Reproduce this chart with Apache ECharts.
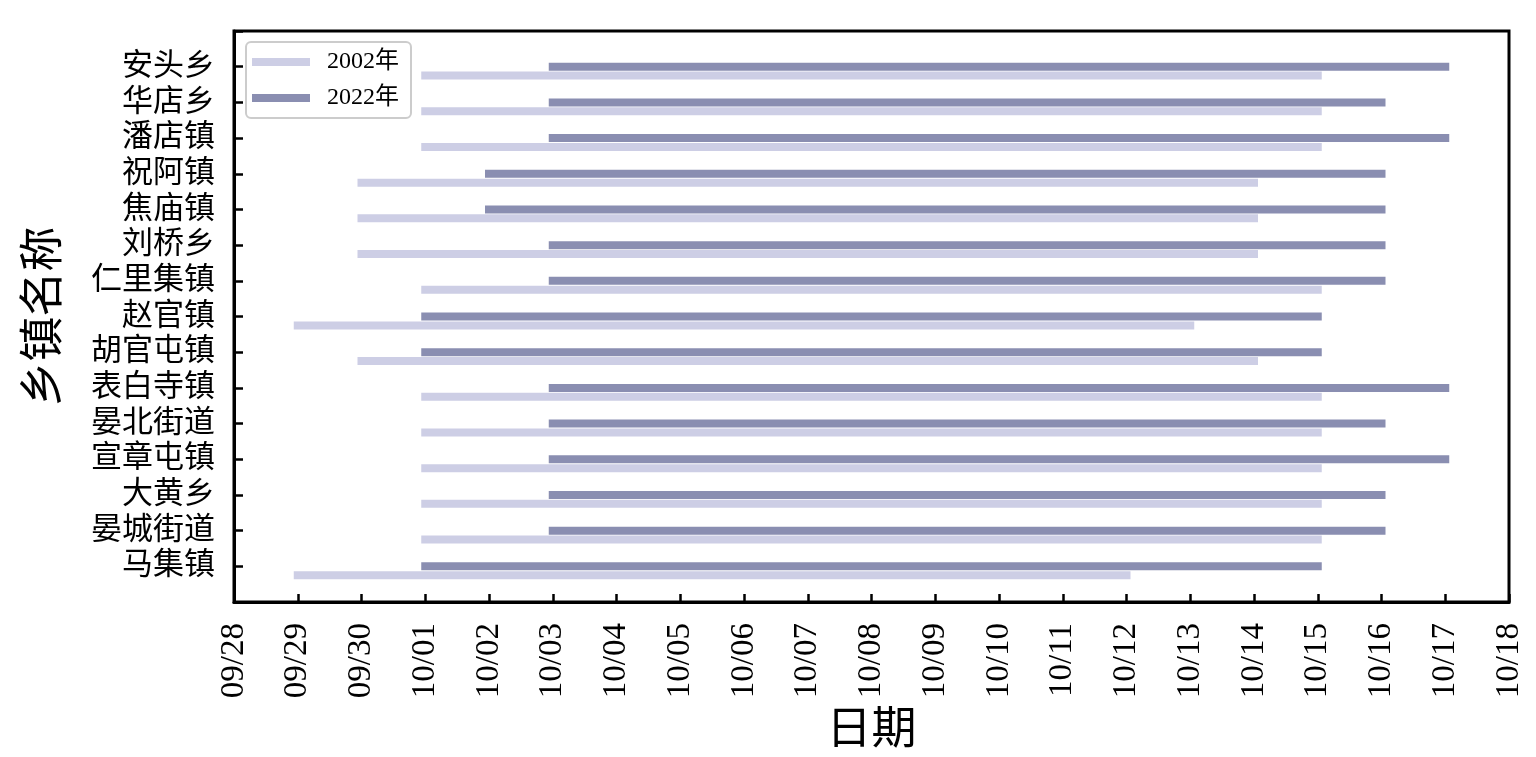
<!DOCTYPE html>
<html>
<head>
<meta charset="utf-8">
<script src="https://cdn.jsdelivr.net/npm/echarts@6/dist/echarts.min.js"></script>
<style>html,body{margin:0;padding:0;background:#fff;}#c{width:1536px;height:757px;}</style>
</head>
<body>
<div id="c"></div>
<script>
const towns = ['安头乡','华店乡','潘店镇','祝阿镇','焦庙镇','刘桥乡','仁里集镇','赵官镇','胡官屯镇','表白寺镇','晏北街道','宣章屯镇','大黄乡','晏城街道','马集镇'];
const tickLabels = ['09/28','09/29','09/30','10/01','10/02','10/03','10/04','10/05','10/06','10/07','10/08','10/09','10/10','10/11','10/12','10/13','10/14','10/15','10/16','10/17','10/18'];
const start2002 = ['10/01','10/01','10/01','09/30','09/30','09/30','10/01','09/29','09/30','10/01','10/01','10/01','10/01','10/01','09/29'];
const end2002   = ['10/15','10/15','10/15','10/14','10/14','10/14','10/15','10/13','10/14','10/15','10/15','10/15','10/15','10/15','10/12'];
const start2022 = ['10/03','10/03','10/03','10/02','10/02','10/03','10/03','10/01','10/01','10/03','10/03','10/03','10/03','10/03','10/01'];
const end2022   = ['10/17','10/16','10/17','10/16','10/16','10/16','10/16','10/15','10/15','10/17','10/16','10/17','10/16','10/16','10/15'];
const seriesNames = ['2002年','2022年'];
const colors = ['#CDCEE5','#8A8EB1'];

const FONT = '"Liberation Serif", "Noto Sans CJK SC", serif';
const idx = d => tickLabels.indexOf(d);
function build(starts, ends){ return towns.map((t,i)=>[idx(starts[i]), idx(ends[i]), i]); }

function makeRender(color, shift){
  return function(params, api){
    const y = api.value(2);
    const off = shift ? api.size([0, 0.25])[1] : 0;
    const s = api.coord([api.value(0), y]);
    const e = api.coord([api.value(1), y]);
    return {
      type: 'line',
      shape: {x1: s[0], y1: s[1] + off, x2: e[0], y2: e[1] + off},
      style: {stroke: color, lineWidth: 8, lineCap: 'square'}
    };
  };
}

const chart = echarts.init(document.getElementById('c'), null, {renderer:'canvas'});
chart.setOption({
  animation: false,
  backgroundColor: '#fff',
  grid: {left: 234, right: 27, top: 31, bottom: 155, show: true, borderColor: '#000', borderWidth: 3, backgroundColor: '#fff', containLabel: false, outerBoundsMode: 'none'},
  legend: {
    data: seriesNames, orient: 'vertical', left: 246, top: 42, icon: 'rect',
    itemWidth: 58, itemHeight: 8, itemGap: 12, selectedMode: false,
    padding: [8, 12, 8, 6], borderColor: '#cccccc', borderWidth: 2, borderRadius: 5, backgroundColor: '#fff',
    textStyle: {fontFamily: FONT, fontSize: 24, color: '#000', padding: [0, 0, 0, 12]}
  },
  xAxis: {
    type: 'value', min: 0, max: 20, interval: 1,
    name: '日期', nameLocation: 'middle', nameGap: 108,
    nameTextStyle: {fontFamily: FONT, fontSize: 45, color: '#000'},
    axisLine: {show: true, onZero: false, lineStyle: {color: '#000', width: 3}},
    axisTick: {show: true, inside: true, length: 8, lineStyle: {color: '#000', width: 2.5}},
    axisLabel: {rotate: 90, margin: 21, fontFamily: FONT, fontSize: 33, color: '#000', formatter: v => tickLabels[v] || ''},
    splitLine: {show: false}
  },
  yAxis: {
    type: 'value', min: -1, max: 15, interval: 1, inverse: true,
    name: '乡镇名称', nameLocation: 'middle', nameGap: 165, nameRotate: 90,
    nameTextStyle: {fontFamily: FONT, fontSize: 45, color: '#000'},
    axisLine: {show: true, onZero: false, lineStyle: {color: '#000', width: 3}},
    axisTick: {show: true, inside: true, length: 9, lineStyle: {color: '#000', width: 2.5}},
    axisLabel: {margin: 19, fontFamily: FONT, fontSize: 31, color: '#000', formatter: v => towns[v] || ''},
    splitLine: {show: false}
  },
  series: [
    {name: seriesNames[0], type: 'custom', itemStyle: {color: colors[0]}, encode: {x: [0,1], y: 2},
     renderItem: makeRender(colors[0], true), data: build(start2002, end2002)},
    {name: seriesNames[1], type: 'custom', itemStyle: {color: colors[1]}, encode: {x: [0,1], y: 2},
     renderItem: makeRender(colors[1], false), data: build(start2022, end2022)}
  ]
});
</script>
</body>
</html>
